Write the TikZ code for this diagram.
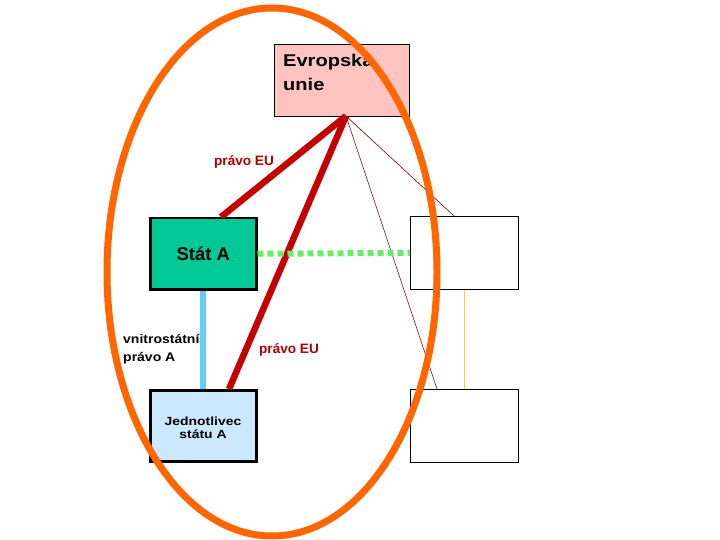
\documentclass[tikz,border=0pt]{standalone}
\usepackage{fontspec}
\setmainfont{Liberation Sans}
\newfontfamily\wideA[FakeStretch=1.18]{Liberation Sans}
\newfontfamily\wideB[FakeStretch=1.12]{Liberation Sans}
\newfontfamily\wideC[FakeStretch=1.18]{Liberation Sans}
\begin{document}
\begin{tikzpicture}[x=1pt,y=-1pt,
  box/.style={draw=black,line width=2.5pt,minimum width=106pt,minimum height=71pt,inner sep=0pt,anchor=north west},
  thinbox/.style={draw=black,line width=0.8pt,fill=white,minimum width=108pt,minimum height=73pt,inner sep=0pt,anchor=north west},
  eulaw/.style={draw={rgb,255:red,196;green,0;blue,0},line width=6.5pt},
  thinlaw/.style={draw=red!45!black,line width=0.6pt},
  redlbl/.style={font=\bfseries\fontsize{13.6}{16}\selectfont,text={rgb,255:red,170;green,0;blue,0},inner sep=0pt}]
\useasboundingbox (0,0) rectangle (720,540);
\fill[white] (0,0) rectangle (720,540);
% boxes
\node[draw=black,line width=0.8pt,fill={rgb,255:red,255;green,196;blue,192},minimum width=135pt,minimum height=72pt,inner sep=0pt,anchor=north west] (eu) at (274,44) {};
\node[font=\wideA\bfseries\fontsize{17}{24}\selectfont,align=left,anchor=north west,inner sep=0pt] (eutext) at (283,54) {Evropska\\unie};
\node[box,fill={rgb,255:red,0;green,200;blue,150}] (sa) at (149,217) {};
\node[font=\bfseries\fontsize{18.5}{20}\selectfont] (satext) at (sa.center) {Stát A};
\node[box,fill={rgb,255:red,204;green,232;blue,255}] (ja) at (149,389) {};
\node[font=\wideC\bfseries\fontsize{11.8}{13.5}\selectfont,align=center,inner sep=0pt] (jatext) at (203,428) {Jednotlivec\\státu A};
\node[thinbox] (r1) at (410,216) {};
\node[thinbox] (r2) at (410,389) {};
% connectors
\coordinate (eub) at (346,116);
\draw[eulaw] (eub) -- (sa.north -| 221,0);
\draw[eulaw] (eub) -- (ja.north -| 229,0);
\draw[thinlaw] (eub) -- (r1.north -| 454,0);
\draw[thinlaw] (eub) -- (r2.north -| 437,0);
\draw[draw={rgb,255:red,102;green,238;blue,102},line width=6pt,dash pattern=on 6pt off 4pt] (sa.east) -- (r1.west);
\draw[draw={rgb,255:red,102;green,204;blue,255},line width=6pt] (sa.south) -- (ja.north);
\draw[draw={rgb,255:red,255;green,204;blue,51},line width=0.8pt] (r1.south -| 464,0) -- (r2.north -| 464,0);
% labels
\node[redlbl] (l1) at (244,162) {právo EU};
\node[redlbl] (l2) at (289,350) {právo EU};
\node[font=\wideB\bfseries\fontsize{12.5}{17.5}\selectfont,align=left,inner sep=0pt,anchor=west] (l3) at (123,349) {vnitrostátní\\právo A};
% ellipse
\draw[draw={rgb,255:red,255;green,102;blue,0},line width=7pt] (272,272) ellipse [x radius=165, y radius=264];
\end{tikzpicture}
\end{document}
